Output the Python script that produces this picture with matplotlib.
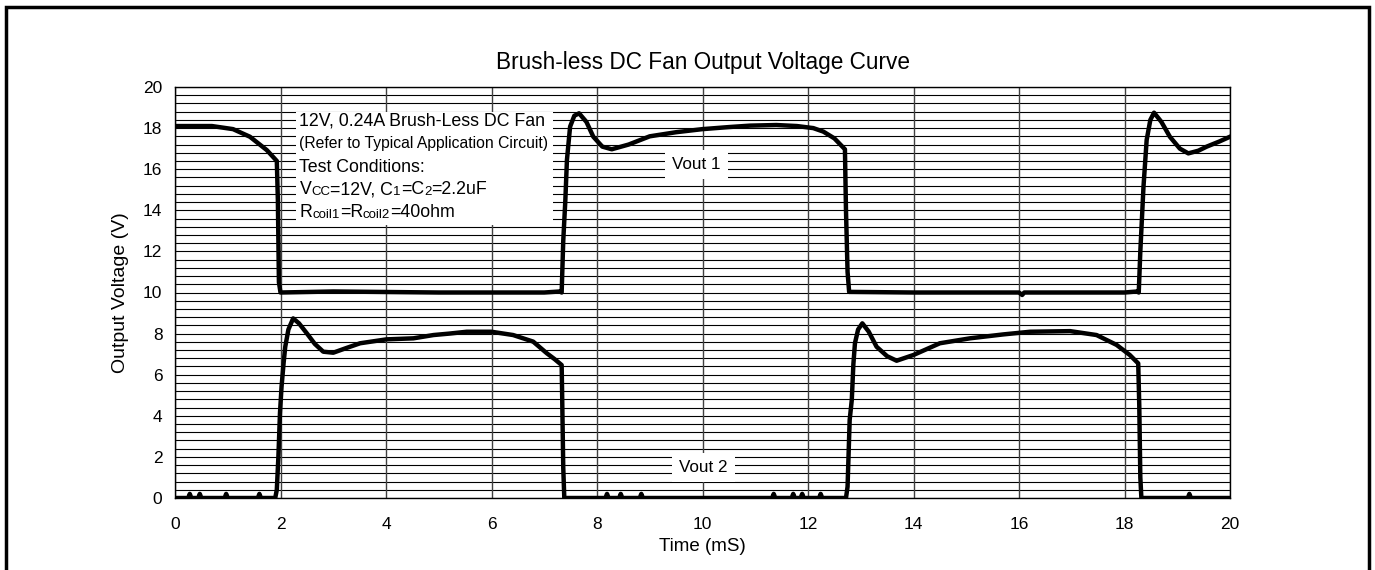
import numpy as np
import matplotlib
matplotlib.use('Agg')
import matplotlib.pyplot as plt
from matplotlib.patches import Rectangle

plt.rcParams['font.family'] = ['Liberation Sans', 'DejaVu Sans']

t1 = [0.0, 0.7, 1.1, 1.42, 1.74, 1.93, 1.95, 1.97, 2.0, 3.0, 5.0, 7.0, 7.3,
      7.33, 7.36, 7.40, 7.43, 7.49, 7.57, 7.66, 7.8, 7.93, 8.1, 8.28, 8.6,
      9.0, 9.5, 10.0, 10.5, 10.9, 11.4, 11.79, 12.1, 12.29, 12.5, 12.7,
      12.72, 12.75, 12.78, 14.0, 16.0, 16.06, 16.1, 18.0, 18.24,
      18.27, 18.30, 18.36, 18.42, 18.49, 18.56, 18.7, 18.86, 19.05, 19.21,
      19.4, 19.56, 19.8, 20.0]
v1 = [18.1, 18.1, 17.95, 17.58, 16.93, 16.4, 14.5, 10.5, 10.0, 10.05, 10.0, 10.0, 10.05,
      10.0, 12.5, 14.5, 16.45, 18.07, 18.6, 18.72, 18.3, 17.58, 17.1, 16.97, 17.2,
      17.6, 17.8, 17.95, 18.05, 18.12, 18.15, 18.1, 18.0, 17.83, 17.5, 16.97,
      14.0, 11.0, 10.03, 10.0, 10.0, 9.88, 10.0, 10.0, 10.05,
      10.0, 12.0, 15.15, 17.42, 18.4, 18.75, 18.3, 17.58, 17.0, 16.77,
      16.9, 17.1, 17.35, 17.58]

# Vout 2
t2 = [0.0, 1.9, 1.93, 1.96, 1.99, 2.02, 2.06, 2.09, 2.15, 2.24, 2.35, 2.5,
      2.65, 2.81, 3.0, 3.25, 3.51, 4.01, 4.52, 4.9, 5.2, 5.53, 6.0, 6.41,
      6.79, 7.05, 7.2, 7.33, 7.34, 7.36, 7.38, 12.72,
      12.75, 12.79, 12.83, 12.86, 12.89, 12.95, 13.03, 13.15, 13.3, 13.5,
      13.68, 14.0, 14.5, 15.07, 15.7, 16.21, 16.97, 17.47, 17.85, 18.1,
      18.26, 18.28, 18.30, 18.32, 20.0]
v2 = [0.0, 0.0, 0.4, 2.0, 4.13, 5.42, 6.6, 7.36, 8.2, 8.74, 8.5, 8.01,
      7.5, 7.12, 7.07, 7.3, 7.53, 7.72, 7.77, 7.93, 8.0, 8.09, 8.09, 7.93,
      7.61, 7.04, 6.75, 6.47, 4.9, 1.5, 0.0, 0.0,
      0.55, 3.8, 4.77, 6.5, 7.53, 8.2, 8.5, 8.1, 7.36, 6.9,
      6.68, 6.96, 7.53, 7.77, 7.96, 8.09, 8.12, 7.93, 7.45, 6.96,
      6.55, 4.5, 1.0, 0.0, 0.0]

# small blips on the 0 V level
spikes2 = [0.28, 0.47, 0.97, 1.6, 8.19, 8.45, 8.84, 11.35, 11.72, 11.89, 12.24, 19.23]

x_ticks = [0, 2, 4, 6, 8, 10, 12, 14, 16, 18, 20]
y_ticks = [0, 2, 4, 6, 8, 10, 12, 14, 16, 18, 20]


def add_spikes(t, v, spikes, h=0.2, w=0.03):
    t = list(t)
    v = list(v)
    for s in spikes:
        t += [s - w, s, s + w]
        v += [0.0, h, 0.0]
    order = np.argsort(t, kind='stable')
    return np.array(t)[order], np.array(v)[order]


t2s, v2s = add_spikes(t2, v2, spikes2)

fig = plt.figure(figsize=(13.75, 5.7), dpi=100)
ax = fig.add_axes([175 / 1375, 72 / 570, 1055 / 1375, 411 / 570])

# grid
for yy in np.arange(0, 20.01, 0.4):
    ax.axhline(yy, color='black', lw=0.8, zorder=1)
for xx in x_ticks:
    ax.axvline(xx, color='#404040', lw=1.0, zorder=1)

ax.plot(t1, v1, color='black', lw=3.2, solid_joinstyle='round', zorder=3)
ax.plot(t2s, v2s, color='black', lw=3.2, solid_joinstyle='round', zorder=3)

ax.set_xlim(0, 20)
ax.set_ylim(0, 20)
ax.set_xticks(x_ticks)
ax.set_yticks(y_ticks)
ax.tick_params(length=0, labelsize=12.5)
ax.tick_params(axis='y', pad=9)
ax.tick_params(axis='x', pad=14)
for s in ax.spines.values():
    s.set_linewidth(1.0)

ax.set_xlabel('Time (mS)', fontsize=13.5, labelpad=4)
ax.set_ylabel('Output Voltage (V)', fontsize=14, labelpad=10)

fig.text(702.5 / 1375, 1 - 62 / 570, 'Brush-less DC Fan Output Voltage Curve',
         ha='center', va='center', fontsize=16.3)

# info box
ax.add_patch(Rectangle((2.3, 13.3), 4.87, 5.5, facecolor='white', edgecolor='none', zorder=2))
fs = 12.8
fs_sub = 9.5
ax.text(2.36, 18.36, '12V, 0.24A Brush-Less DC Fan', fontsize=fs, va='center', zorder=4)
ax.text(2.36, 17.27, '(Refer to Typical Application Circuit)', fontsize=11.3, va='center', zorder=4)
ax.text(2.36, 16.1, 'Test Conditions:', fontsize=fs, va='center', zorder=4)


def chain(x, y, parts):
    prev = ax.text(x, y, parts[0][0], fontsize=parts[0][1], va='center', zorder=4)
    for s, f in parts[1:]:
        prev = ax.annotate(s, xy=(1, 0), xycoords=prev, fontsize=f,
                           va='bottom', ha='left', zorder=4)


chain(2.36, 14.99, [('V', fs), ('CC', fs_sub), ('=12V, C', fs), ('1', fs_sub), ('=C', fs),
                    ('2', fs_sub), ('=2.2uF', fs)])
chain(2.36, 13.9, [('R', fs), ('coil1', fs_sub), ('=R', fs), ('coil2', fs_sub), ('=40ohm', fs)])

ax.text(9.89, 16.25, 'Vout 1', fontsize=12.3, ha='center', va='center', zorder=4,
        bbox=dict(facecolor='white', edgecolor='none', pad=5))
ax.text(10.02, 1.5, 'Vout 2', fontsize=12.3, ha='center', va='center', zorder=4,
        bbox=dict(facecolor='white', edgecolor='none', pad=5))

# outer frame
fig.patches.append(Rectangle((6 / 1375, -0.05), 1363 / 1375, 1.05 - 7 / 570,
                             transform=fig.transFigure, fill=False,
                             edgecolor='black', lw=2.5))

fig.savefig('out.png', dpi=100)
